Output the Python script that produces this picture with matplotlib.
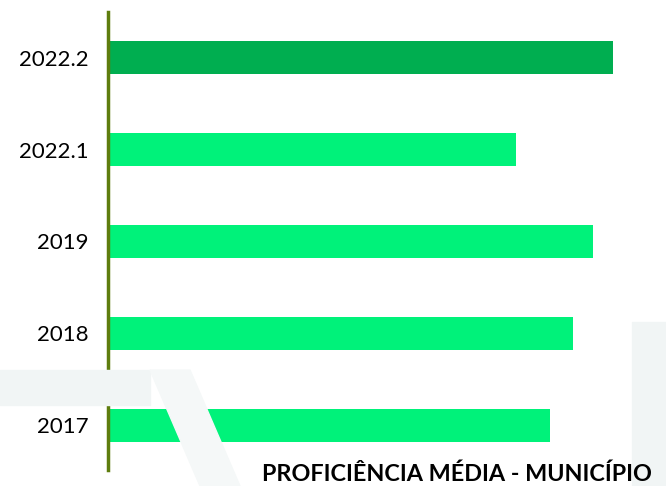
import matplotlib.pyplot as plt
from matplotlib.patches import Polygon, Rectangle

categories = ["2017", "2018", "2019", "2022.1", "2022.2"]
values = [442, 465, 485, 408, 505]
bar_colors = ["#00F27A", "#00F27A", "#00F27A", "#00F27A", "#00AE50"]
title = "PROFICIÊNCIA MÉDIA - MUNICÍPIO"

plt.rcParams['font.family'] = ['Lato', 'DejaVu Sans']

fig = plt.figure(figsize=(6.66, 4.86), dpi=100)

# faint background watermark
W, H = 666, 486
def fx(x):
    return x / W
def fy(y):
    return 1 - y / H
wm = "#F1F5F5"
fig.patches.append(Rectangle((0, fy(405)), fx(150), fy(370) - fy(405),
                             transform=fig.transFigure, color=wm, zorder=0))
fig.patches.append(Polygon([(fx(150), fy(370)), (fx(190), fy(370)),
                            (fx(240), fy(486)), (fx(200), fy(486))],
                           transform=fig.transFigure, color="#F5F8F8", zorder=0))
fig.patches.append(Rectangle((fx(632), 0), fx(34), fy(322),
                             transform=fig.transFigure, color=wm, zorder=0))

ax = fig.add_axes([108 / W, 1 - 470 / H, 1 - 108 / W, (470 - 12) / H])
ax.patch.set_alpha(0)

ypos = list(range(len(categories)))
ax.barh(ypos, values, height=0.36, color=bar_colors, zorder=2)

ax.set_xlim(0, 558)
ax.set_ylim(-0.49, 4.5)
ax.set_yticks(ypos)
ax.set_yticklabels(categories, fontsize=16)
ax.tick_params(axis='y', length=0, pad=14)
ax.set_xticks([])

for s in ['top', 'right', 'bottom']:
    ax.spines[s].set_visible(False)
ax.spines['left'].set_color('#5E7D0E')
ax.spines['left'].set_linewidth(2.5)
ax.spines['left'].set_zorder(3)

fig.text(262 / W, 1 - 481 / H, title, fontsize=16.8, fontweight='bold',
         ha='left', va='baseline', color='black')

fig.savefig('out.png', dpi=100)
